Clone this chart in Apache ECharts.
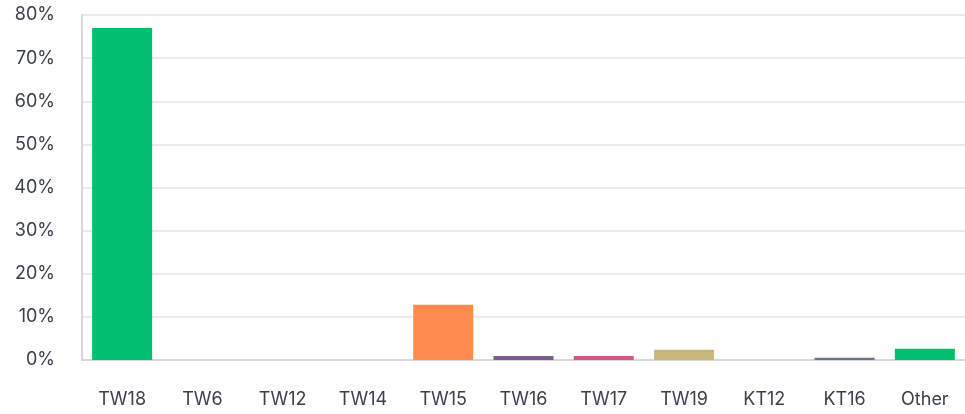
<!DOCTYPE html>
<html>
<head>
<meta charset="utf-8">
<script src="https://cdn.jsdelivr.net/npm/echarts@6/dist/echarts.min.js"></script>
<style>
  html, body { margin: 0; padding: 0; background: #fff; }
  #chart { width: 965px; height: 414px; }
</style>
</head>
<body>
<div id="chart"></div>
<script>
// categories and shares (%)
var categories = ['TW18', 'TW6', 'TW12', 'TW14', 'TW15', 'TW16', 'TW17', 'TW19', 'KT12', 'KT16', 'Other'];
var shares = [77.0, 0, 0, 0, 12.8, 0.9, 0.9, 2.4, 0, 0.5, 2.6];
var barColors = ['#00bf6f', '#00bf6f', '#00bf6f', '#00bf6f', '#ff8b4f', '#7d5c91', '#d25889', '#c8b77a', '#6b7785', '#6b7785', '#00bf6f'];
var yTicks = [0, 10, 20, 30, 40, 50, 60, 70, 80];

var chart = echarts.init(document.getElementById('chart'));

chart.setOption({
  animation: false,
  textStyle: { fontFamily: 'Inter' },
  grid: { left: 82, width: 888, top: 15, height: 345, containLabel: false },
  xAxis: {
    type: 'category',
    data: categories,
    axisTick: { show: false },
    axisLine: { lineStyle: { color: '#d9d9d9', width: 2 } },
    axisLabel: { color: '#3a414c', fontSize: 18, margin: 31 }
  },
  yAxis: {
    type: 'value',
    min: yTicks[0],
    max: yTicks[yTicks.length - 1],
    interval: 10,
    axisLine: { show: true, lineStyle: { color: '#d9d9d9', width: 2 } },
    axisTick: { show: false },
    splitLine: { lineStyle: { color: '#ececec', width: 2 } },
    axisLabel: { color: '#3a414c', fontSize: 18, margin: 27, formatter: '{value}%' }
  },
  series: [{
    type: 'bar',
    barWidth: 60,
    data: shares.map(function (v, i) {
      return { value: v, itemStyle: { color: barColors[i] } };
    })
  }]
});
</script>
</body>
</html>
